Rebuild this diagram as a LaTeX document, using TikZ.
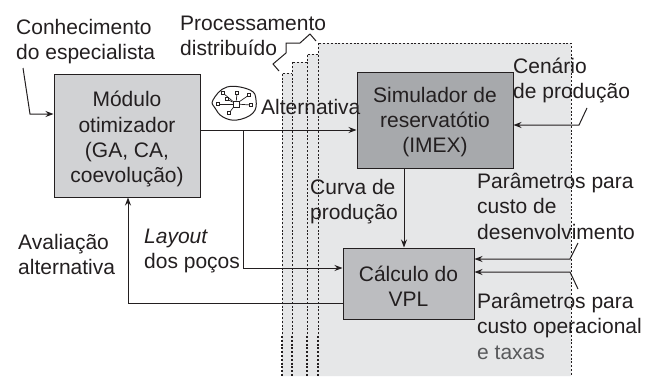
\documentclass[tikz,border=0pt]{standalone}
\usepackage{fontspec}
\setmainfont{Liberation Sans}
\usetikzlibrary{arrows.meta}
\definecolor{panel}{HTML}{E6E7E8}
\definecolor{boxa}{HTML}{D1D2D4}
\definecolor{boxb}{HTML}{A7A9AC}
\definecolor{boxc}{HTML}{BCBDC0}
\definecolor{ink}{HTML}{231F20}
\definecolor{softink}{HTML}{58595B}
\tikzset{x=1pt,y=-1pt,
  lbl/.style={font=\fontsize{21}{25.3}\selectfont,text=ink,align=left,inner sep=0pt},
  block/.style={draw=ink,line width=1pt,align=center,font=\fontsize{21}{25.3}\selectfont,text=ink,inner sep=0pt},
  conn/.style={draw=ink,line width=1pt},
  arr/.style={conn,-{Stealth[length=8pt,width=6pt]}},
  dashline/.style={draw=ink,line width=.8pt,dash pattern=on 2pt off 1.8pt},
  dashbold/.style={draw=ink,line width=1.5pt,dash pattern=on 2pt off 1.8pt},
  sat/.style={draw=ink,fill=white,line width=.7pt,minimum size=3.4pt,inner sep=0pt},
  hubbox/.style={draw=ink,fill=white,line width=.7pt,minimum size=6pt,inner sep=0pt}}
\begin{document}
\begin{tikzpicture}
\useasboundingbox (0,0) rectangle (655,378);
\fill[white] (0,0) rectangle (655,378);
\fill[panel] (282,376) -- (282,73) -- (292,73) -- (292,62) -- (307,62) -- (307,54) -- (318,54) -- (318,43) -- (571,43) -- (571,376) -- cycle;
\draw[dashline] (282,376) -- (282,73) -- (292,73);
\draw[dashline] (292,376) -- (292,62) -- (307,62);
\draw[dashline] (307,376) -- (307,54) -- (318,54);
\draw[dashline] (318,376) -- (318,43) -- (571,43) -- (571,376);
\foreach \x in {282,292,307,318}{\draw[dashbold] (\x,336) -- (\x,376);}
\coordinate (brA) at (279,71);\coordinate (brB) at (273,64);\coordinate (brC) at (286,53);\coordinate (brD) at (286,43);\coordinate (brE) at (300,43);\coordinate (brF) at (310,34);\coordinate (brG) at (316,41);
\draw[conn] (brA)--(brB)--(brC)--(brD)--(brE)--(brF)--(brG);
\node[block,fill=boxa,minimum width=146pt,minimum height=123pt] (opt) at (127,135.5) {\rule{0pt}{23pt}Módulo\\otimizador\\(GA, CA,\\coevolução)};
\node[block,fill=boxb,minimum width=156pt,minimum height=96pt] (sim) at (435,120) {\rule{0pt}{19pt}Simulador de\\reservatótio\\(IMEX)};
\node[block,fill=boxc,minimum width=131pt,minimum height=71pt] (vpl) at (408.5,283.5) {\rule{0pt}{21.5pt}Cálculo do\\VPL};
\node[lbl,anchor=north west] (t1) at (16,19) {Conhecimento\\do especialista};
\node[lbl,anchor=north west] (t2) at (180,16) {Processamento\\distribuído};
\node[lbl,anchor=north west] (t3) at (261,99) {Alternativa};
\node[lbl,anchor=north west] (t4) at (513,58) {Cenário\\de produção};
\node[lbl,anchor=north west] (t5) at (310,179) {Curva de\\produção};
\node[lbl,anchor=north west] (t6) at (477,173) {Parâmetros para\\custo de\\desenvolvimento};
\node[lbl,anchor=north west] (t7) at (477,293) {Parâmetros para\\custo operacional\\{\color{softink}e taxas}};
\node[lbl,anchor=north west] (t8) at (18,234) {Avaliação\\alternativa};
\node[lbl,anchor=north west] (t9) at (144,229) {\itshape Layout\\dos poços};
% connectors
\coordinate (a0) at (23,68);\coordinate (a1) at (30,114);
\draw[arr] (a0) -- (a1) -- (opt.west |- a1);
\coordinate (b0) at (200,130);\coordinate (b1) at (243,130);\coordinate (b2) at (243,268);
\draw[arr] (b0) -- (sim.west |- b0);
\draw[arr] (b1) -- (b2) -- (vpl.west |- b2);
\coordinate (c0) at (404,168);
\draw[arr] (c0) -- (c0 |- vpl.north);
\coordinate (d0) at (343,303);\coordinate (d1) at (128,303);
\draw[arr] (d0) -- (d1) -- (d1 |- opt.south);
\coordinate (e0) at (587,108);\coordinate (e1) at (579,125);
\draw[arr] (e0) -- (e1) -- (sim.east |- e1);
\coordinate (f0) at (578,243);\coordinate (f1) at (570,259);
\draw[arr] (f0) -- (f1) -- (vpl.east |- f1);
\coordinate (g0) at (578,289);\coordinate (g1) at (570,272);
\draw[arr] (g0) -- (g1) -- (vpl.east |- g1);
% network icon
\draw[conn] plot[smooth cycle,tension=.7] coordinates {(213,100) (227,87) (250,90) (256,100) (253,113) (237,120) (223,117) (215,108)};
\node[hubbox] (hub) at (236,104) {};
\foreach \n/\p in {s1/{(218,104)},s2/{(227,99)},s3/{(223,93)},s4/{(237,93)},s5/{(249,95)},s6/{(251,105)},s7/{(229,113)}}{
  \node[sat] (\n) at \p {};
  \draw[draw=ink,line width=.7pt] (hub) -- (\n);
}
\end{tikzpicture}
\end{document}
